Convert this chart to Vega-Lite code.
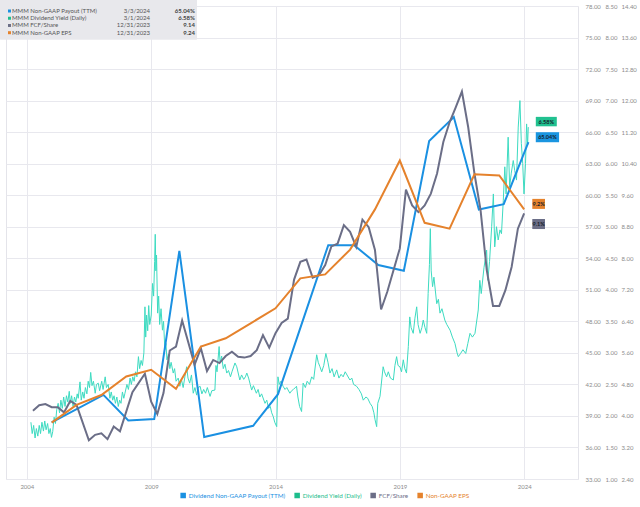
{
"$schema": "https://vega.github.io/schema/vega-lite/v6.json",
"width": 572, "height": 473,
"autosize": {"type": "none"},
"padding": {"left": 6, "top": 6, "right": 62, "bottom": 28},
"background": "white",
"config": {
  "font": "Lato",
  "view": {"stroke": "#e4e4ea", "strokeWidth": 1},
  "axis": {"labelFont": "Lato", "labelFontSize": 6, "labelColor": "#8c8c8c", "ticks": false, "domain": false, "gridColor": "#e8e8ee", "gridWidth": 1, "labelOverlap": false, "labelFlush": false}
},
"datasets": {
  "payout": [{"date":"2004-12-31","value":38.38},{"date":"2007-01-30","value":41.0},{"date":"2008-01-30","value":38.57},{"date":"2009-02-14","value":38.7},{"date":"2010-02-18","value":54.71},{"date":"2011-02-18","value":36.99},{"date":"2013-02-06","value":38.06},{"date":"2014-02-06","value":41.07},{"date":"2016-02-14","value":55.25},{"date":"2017-02-28","value":55.25},{"date":"2018-02-18","value":53.35},{"date":"2019-02-28","value":52.81},{"date":"2020-03-06","value":65.16},{"date":"2021-03-03","value":67.43},{"date":"2022-03-06","value":58.64},{"date":"2023-03-06","value":59.14},{"date":"2024-03-03","value":65.04}],
  "eps": [{"date":"2004-12-31","value":3.83},{"date":"2005-12-31","value":4.28},{"date":"2006-12-31","value":4.53},{"date":"2007-12-31","value":5.0},{"date":"2008-12-31","value":5.17},{"date":"2009-12-31","value":4.69},{"date":"2010-12-31","value":5.76},{"date":"2011-12-31","value":5.97},{"date":"2012-12-31","value":6.35},{"date":"2013-12-31","value":6.73},{"date":"2014-12-31","value":7.49},{"date":"2015-12-31","value":7.59},{"date":"2016-12-31","value":8.22},{"date":"2017-12-31","value":9.24},{"date":"2018-12-31","value":10.48},{"date":"2019-12-31","value":8.9},{"date":"2020-12-31","value":8.75},{"date":"2021-12-31","value":10.13},{"date":"2022-12-31","value":10.1},{"date":"2023-12-31","value":9.24}],
  "fcf": [{"date":"2004-03-31","value":4.13},{"date":"2004-06-30","value":4.27},{"date":"2004-09-30","value":4.3},{"date":"2004-12-31","value":4.22},{"date":"2005-03-31","value":4.22},{"date":"2005-06-30","value":4.09},{"date":"2005-09-30","value":4.38},{"date":"2005-12-31","value":4.28},{"date":"2006-06-30","value":3.38},{"date":"2006-09-30","value":3.52},{"date":"2006-12-31","value":3.56},{"date":"2007-03-31","value":3.41},{"date":"2007-06-30","value":3.73},{"date":"2007-09-30","value":3.61},{"date":"2008-03-31","value":4.6},{"date":"2008-09-30","value":5.07},{"date":"2008-12-31","value":4.36},{"date":"2009-03-31","value":4.05},{"date":"2009-06-30","value":4.58},{"date":"2009-09-30","value":5.66},{"date":"2009-12-31","value":5.76},{"date":"2010-03-31","value":6.42},{"date":"2010-09-30","value":5.3},{"date":"2010-12-31","value":5.72},{"date":"2011-03-31","value":5.14},{"date":"2011-06-30","value":5.42},{"date":"2011-09-30","value":5.34},{"date":"2011-12-31","value":5.52},{"date":"2012-03-31","value":5.63},{"date":"2012-06-30","value":5.5},{"date":"2012-09-30","value":5.48},{"date":"2012-12-31","value":5.52},{"date":"2013-03-31","value":5.67},{"date":"2013-06-30","value":6.05},{"date":"2013-09-30","value":5.73},{"date":"2013-12-31","value":6.1},{"date":"2014-03-31","value":6.36},{"date":"2014-06-30","value":6.47},{"date":"2014-09-30","value":7.46},{"date":"2014-12-31","value":7.91},{"date":"2015-03-31","value":7.97},{"date":"2015-06-30","value":7.51},{"date":"2015-09-30","value":7.57},{"date":"2015-12-31","value":7.83},{"date":"2016-03-31","value":8.3},{"date":"2016-06-30","value":8.37},{"date":"2016-09-30","value":8.84},{"date":"2016-12-31","value":8.67},{"date":"2017-03-31","value":8.29},{"date":"2017-06-30","value":8.98},{"date":"2017-09-30","value":8.79},{"date":"2017-12-31","value":8.21},{"date":"2018-03-31","value":6.7},{"date":"2018-06-30","value":7.15},{"date":"2018-12-31","value":8.25},{"date":"2019-03-31","value":9.74},{"date":"2019-06-30","value":9.34},{"date":"2019-09-30","value":9.17},{"date":"2019-12-31","value":9.34},{"date":"2020-03-31","value":9.64},{"date":"2020-06-30","value":10.15},{"date":"2020-09-30","value":10.95},{"date":"2020-12-31","value":11.45},{"date":"2021-03-31","value":11.83},{"date":"2021-06-30","value":12.23},{"date":"2021-09-30","value":11.33},{"date":"2021-12-31","value":10.15},{"date":"2022-03-31","value":9.22},{"date":"2022-06-30","value":7.7},{"date":"2022-09-30","value":6.79},{"date":"2022-12-31","value":6.79},{"date":"2023-03-31","value":7.19},{"date":"2023-06-30","value":7.78},{"date":"2023-09-30","value":8.75},{"date":"2023-12-31","value":9.14}],
  "yield": [{"date":"2004-03-01","value":1.9},{"date":"2004-03-20","value":1.72},{"date":"2004-04-10","value":1.85},{"date":"2004-05-01","value":1.65},{"date":"2004-05-20","value":1.8},{"date":"2004-06-10","value":1.68},{"date":"2004-07-01","value":1.85},{"date":"2004-07-20","value":1.72},{"date":"2004-08-10","value":1.9},{"date":"2004-09-01","value":1.76},{"date":"2004-09-20","value":1.92},{"date":"2004-10-10","value":1.78},{"date":"2004-11-01","value":1.88},{"date":"2004-11-20","value":1.72},{"date":"2004-12-10","value":1.8},{"date":"2004-12-28","value":1.66},{"date":"2005-01-15","value":1.75},{"date":"2005-02-05","value":1.98},{"date":"2005-02-25","value":1.88},{"date":"2005-03-15","value":2.1},{"date":"2005-04-05","value":2.2},{"date":"2005-04-25","value":2.05},{"date":"2005-05-15","value":2.25},{"date":"2005-06-05","value":2.12},{"date":"2005-06-25","value":2.3},{"date":"2005-07-15","value":2.15},{"date":"2005-08-05","value":2.32},{"date":"2005-08-25","value":2.22},{"date":"2005-09-15","value":2.39},{"date":"2005-10-01","value":2.2},{"date":"2005-10-20","value":2.32},{"date":"2005-11-10","value":2.15},{"date":"2005-12-01","value":2.3},{"date":"2005-12-20","value":2.22},{"date":"2006-01-10","value":2.35},{"date":"2006-01-25","value":2.28},{"date":"2006-02-20","value":2.54},{"date":"2006-03-10","value":2.25},{"date":"2006-04-01","value":2.38},{"date":"2006-04-20","value":2.28},{"date":"2006-05-10","value":2.45},{"date":"2006-06-01","value":2.35},{"date":"2006-06-20","value":2.55},{"date":"2006-07-10","value":2.45},{"date":"2006-07-27","value":2.69},{"date":"2006-08-15","value":2.48},{"date":"2006-09-05","value":2.55},{"date":"2006-10-01","value":2.36},{"date":"2006-10-20","value":2.5},{"date":"2006-11-15","value":2.52},{"date":"2006-12-05","value":2.4},{"date":"2007-01-05","value":2.55},{"date":"2007-01-25","value":2.42},{"date":"2007-02-25","value":2.62},{"date":"2007-03-15","value":2.45},{"date":"2007-04-10","value":2.5},{"date":"2007-05-05","value":2.28},{"date":"2007-05-25","value":2.38},{"date":"2007-06-15","value":2.25},{"date":"2007-07-05","value":2.32},{"date":"2007-07-25","value":2.2},{"date":"2007-08-15","value":2.3},{"date":"2007-09-05","value":2.15},{"date":"2007-09-25","value":2.25},{"date":"2007-10-15","value":2.2},{"date":"2007-11-05","value":2.38},{"date":"2007-11-25","value":2.28},{"date":"2007-12-12","value":2.36},{"date":"2008-01-10","value":2.5},{"date":"2008-02-01","value":2.42},{"date":"2008-02-25","value":2.6},{"date":"2008-03-15","value":2.5},{"date":"2008-04-05","value":2.62},{"date":"2008-04-25","value":2.55},{"date":"2008-05-15","value":2.7},{"date":"2008-06-05","value":2.62},{"date":"2008-06-27","value":2.94},{"date":"2008-07-15","value":2.75},{"date":"2008-08-05","value":2.88},{"date":"2008-08-25","value":2.8},{"date":"2008-09-15","value":3.0},{"date":"2008-10-01","value":3.73},{"date":"2008-10-12","value":3.25},{"date":"2008-10-25","value":3.6},{"date":"2008-11-10","value":3.35},{"date":"2008-11-25","value":3.75},{"date":"2008-12-10","value":3.45},{"date":"2009-01-01","value":3.6},{"date":"2009-01-20","value":4.1},{"date":"2009-02-05","value":3.9},{"date":"2009-02-20","value":4.45},{"date":"2009-03-01","value":4.88},{"date":"2009-03-10","value":4.3},{"date":"2009-03-20","value":4.55},{"date":"2009-04-05","value":3.63},{"date":"2009-04-20","value":3.9},{"date":"2009-05-05","value":3.45},{"date":"2009-05-25","value":3.7},{"date":"2009-06-15","value":3.36},{"date":"2009-07-01","value":3.5},{"date":"2009-07-20","value":3.05},{"date":"2009-08-05","value":3.15},{"date":"2009-08-20","value":2.89},{"date":"2009-09-10","value":2.98},{"date":"2009-10-01","value":2.75},{"date":"2009-10-20","value":2.85},{"date":"2009-11-20","value":2.68},{"date":"2009-12-10","value":2.75},{"date":"2010-01-01","value":2.55},{"date":"2010-02-01","value":2.6},{"date":"2010-02-25","value":2.47},{"date":"2010-03-20","value":2.58},{"date":"2010-04-15","value":2.45},{"date":"2010-05-10","value":2.62},{"date":"2010-06-05","value":2.78},{"date":"2010-06-25","value":2.6},{"date":"2010-07-20","value":2.52},{"date":"2010-08-15","value":2.65},{"date":"2010-09-10","value":2.36},{"date":"2010-10-05","value":2.45},{"date":"2010-10-30","value":2.33},{"date":"2010-11-20","value":2.45},{"date":"2010-12-20","value":2.47},{"date":"2011-01-15","value":2.35},{"date":"2011-02-10","value":2.42},{"date":"2011-03-10","value":2.36},{"date":"2011-04-05","value":2.45},{"date":"2011-05-15","value":2.31},{"date":"2011-06-10","value":2.4},{"date":"2011-07-25","value":2.41},{"date":"2011-08-10","value":2.8},{"date":"2011-08-25","value":2.7},{"date":"2011-09-25","value":3.1},{"date":"2011-10-10","value":2.84},{"date":"2011-11-01","value":2.95},{"date":"2011-11-25","value":2.75},{"date":"2011-12-20","value":2.82},{"date":"2012-01-15","value":2.68},{"date":"2012-02-10","value":2.72},{"date":"2012-03-10","value":2.62},{"date":"2012-04-01","value":2.7},{"date":"2012-05-15","value":2.84},{"date":"2012-06-10","value":2.78},{"date":"2012-07-25","value":2.57},{"date":"2012-08-20","value":2.65},{"date":"2012-09-20","value":2.58},{"date":"2012-10-15","value":2.62},{"date":"2012-11-05","value":2.68},{"date":"2012-12-01","value":2.6},{"date":"2012-12-25","value":2.5},{"date":"2013-01-15","value":2.41},{"date":"2013-02-10","value":2.48},{"date":"2013-03-25","value":2.36},{"date":"2013-04-20","value":2.42},{"date":"2013-05-15","value":2.3},{"date":"2013-06-10","value":2.35},{"date":"2013-07-30","value":2.2},{"date":"2013-08-25","value":2.25},{"date":"2013-09-20","value":2.12},{"date":"2013-10-15","value":2.15},{"date":"2013-11-05","value":2.05},{"date":"2013-11-28","value":1.99},{"date":"2013-12-20","value":1.9},{"date":"2014-01-18","value":1.83},{"date":"2014-02-05","value":2.62},{"date":"2014-02-25","value":2.5},{"date":"2014-03-20","value":2.55},{"date":"2014-04-22","value":2.47},{"date":"2014-05-20","value":2.42},{"date":"2014-06-15","value":2.45},{"date":"2014-07-30","value":2.36},{"date":"2014-08-25","value":2.4},{"date":"2014-09-20","value":2.42},{"date":"2014-11-05","value":2.47},{"date":"2014-11-25","value":2.3},{"date":"2014-12-20","value":2.15},{"date":"2015-01-18","value":2.07},{"date":"2015-02-10","value":2.52},{"date":"2015-03-15","value":2.45},{"date":"2015-04-10","value":2.55},{"date":"2015-05-15","value":2.5},{"date":"2015-06-15","value":2.62},{"date":"2015-07-15","value":2.58},{"date":"2015-08-28","value":2.97},{"date":"2015-09-20","value":2.85},{"date":"2015-10-15","value":2.78},{"date":"2015-11-10","value":2.7},{"date":"2015-12-10","value":2.8},{"date":"2016-01-10","value":2.99},{"date":"2016-02-10","value":2.85},{"date":"2016-03-10","value":2.68},{"date":"2016-04-10","value":2.75},{"date":"2016-05-10","value":2.62},{"date":"2016-06-17","value":2.73},{"date":"2016-07-20","value":2.6},{"date":"2016-08-20","value":2.66},{"date":"2016-09-20","value":2.62},{"date":"2016-10-20","value":2.7},{"date":"2016-12-28","value":2.57},{"date":"2017-01-25","value":2.6},{"date":"2017-02-20","value":2.5},{"date":"2017-04-05","value":2.47},{"date":"2017-05-10","value":2.42},{"date":"2017-06-15","value":2.35},{"date":"2017-07-12","value":2.25},{"date":"2017-08-20","value":2.3},{"date":"2017-09-15","value":2.28},{"date":"2017-10-20","value":2.2},{"date":"2017-11-20","value":2.15},{"date":"2017-12-15","value":2.05},{"date":"2018-01-01","value":1.94},{"date":"2018-01-25","value":1.83},{"date":"2018-02-10","value":2.2},{"date":"2018-03-15","value":2.31},{"date":"2018-04-30","value":2.78},{"date":"2018-05-20","value":2.7},{"date":"2018-06-20","value":2.62},{"date":"2018-07-15","value":2.7},{"date":"2018-08-15","value":2.6},{"date":"2018-09-27","value":2.57},{"date":"2018-10-20","value":2.8},{"date":"2018-11-14","value":2.94},{"date":"2018-12-05","value":2.8},{"date":"2019-01-01","value":2.78},{"date":"2019-01-25","value":2.7},{"date":"2019-02-20","value":2.89},{"date":"2019-03-15","value":2.75},{"date":"2019-04-08","value":2.68},{"date":"2019-05-05","value":3.1},{"date":"2019-05-26","value":3.57},{"date":"2019-06-15","value":3.4},{"date":"2019-07-16","value":3.31},{"date":"2019-08-10","value":3.55},{"date":"2019-09-05","value":3.73},{"date":"2019-09-25","value":3.45},{"date":"2019-10-25","value":3.31},{"date":"2019-11-20","value":3.4},{"date":"2019-12-10","value":3.52},{"date":"2020-01-05","value":3.4},{"date":"2020-01-30","value":3.31},{"date":"2020-02-20","value":3.94},{"date":"2020-03-10","value":4.4},{"date":"2020-03-23","value":4.97},{"date":"2020-04-05","value":4.3},{"date":"2020-04-25","value":4.05},{"date":"2020-05-15","value":4.2},{"date":"2020-06-25","value":3.78},{"date":"2020-07-20","value":3.85},{"date":"2020-08-12","value":3.63},{"date":"2020-09-10","value":3.7},{"date":"2020-10-22","value":3.52},{"date":"2020-11-20","value":3.45},{"date":"2021-01-07","value":3.36},{"date":"2021-02-10","value":3.25},{"date":"2021-03-20","value":3.15},{"date":"2021-04-20","value":3.0},{"date":"2021-05-08","value":2.94},{"date":"2021-06-10","value":2.99},{"date":"2021-07-15","value":3.05},{"date":"2021-08-25","value":2.99},{"date":"2021-09-25","value":3.15},{"date":"2021-10-27","value":3.31},{"date":"2021-12-01","value":3.25},{"date":"2022-01-08","value":3.31},{"date":"2022-02-25","value":3.68},{"date":"2022-03-20","value":4.15},{"date":"2022-04-10","value":3.94},{"date":"2022-05-20","value":4.35},{"date":"2022-06-28","value":4.63},{"date":"2022-07-15","value":4.15},{"date":"2022-08-10","value":4.45},{"date":"2022-09-10","value":5.0},{"date":"2022-10-05","value":5.52},{"date":"2022-10-25","value":4.68},{"date":"2022-11-20","value":5.0},{"date":"2022-12-15","value":4.79},{"date":"2023-01-10","value":4.95},{"date":"2023-02-01","value":4.89},{"date":"2023-02-28","value":5.42},{"date":"2023-03-22","value":5.95},{"date":"2023-04-10","value":5.52},{"date":"2023-05-10","value":6.42},{"date":"2023-06-01","value":5.63},{"date":"2023-06-25","value":5.85},{"date":"2023-07-24","value":6.05},{"date":"2023-08-15","value":5.89},{"date":"2023-09-10","value":5.74},{"date":"2023-10-05","value":6.58},{"date":"2023-10-30","value":7.0},{"date":"2023-11-20","value":6.32},{"date":"2023-12-10","value":6.0},{"date":"2023-12-29","value":5.52},{"date":"2024-01-20","value":6.0},{"date":"2024-02-05","value":6.63},{"date":"2024-02-20","value":6.3},{"date":"2024-03-01","value":6.58}],
  "last": [{"series":"Dividend Yield (Daily)","date":"2024-03-01","value":6.58,"label":"6.58%"},{"series":"Dividend Non-GAAP Payout (TTM)","date":"2024-03-03","value":65.04,"label":"65.04%"},{"series":"Non-GAAP EPS","date":"2023-12-31","value":9.24,"label":"9.2%"},{"series":"FCF/Share","date":"2023-12-31","value":9.14,"label":"9.1%"}],
  "info": [{"row":1,"series":"Dividend Non-GAAP Payout (TTM)","name":"MMM Non-GAAP Payout (TTM)","asof":"3/3/2024","val":"65.04%"},{"row":2,"series":"Dividend Yield (Daily)","name":"MMM Dividend Yield (Daily)","asof":"3/1/2024","val":"6.58%"},{"row":3,"series":"FCF/Share","name":"MMM FCF/Share","asof":"12/31/2023","val":"9.14"},{"row":4,"series":"Non-GAAP EPS","name":"MMM Non-GAAP EPS","asof":"12/31/2023","val":"9.24"}]
},
"layer": [
  {
    "layer": [
      {
        "data": {"name": "yield"},
        "mark": {"type": "line", "color": "#3ddbc1", "strokeWidth": 1},
        "encoding": {
          "x": {"field": "date", "type": "temporal", "title": null,
                "scale": {"domain": [{"year": 2003, "month": 3, "date": 1}, {"year": 2026, "month": 3, "date": 1}]},
                "axis": {"values": [{"year": 2004, "month": 1, "date": 1}, {"year": 2009, "month": 1, "date": 1}, {"year": 2014, "month": 1, "date": 1}, {"year": 2019, "month": 1, "date": 1}, {"year": 2024, "month": 1, "date": 1}], "format": "%Y", "grid": true, "labelPadding": 4, "tickCount": 20}},
          "y": {"field": "value", "type": "quantitative", "title": null,
                "scale": {"domain": [1, 8.5], "nice": false, "zero": false},
                "axis": {"orient": "right", "offset": 20, "labelPadding": 7, "grid": false, "format": ".2f", "tickCount": 40, "labelOverlap": false, "values": [1, 1.5, 2, 2.5, 3, 3.5, 4, 4.5, 5, 5.5, 6, 6.5, 7, 7.5, 8, 8.5]}}
        }
      },
      {
        "data": {"name": "last"},
        "transform": [{"filter": "datum.series === 'Dividend Yield (Daily)'"}],
        "mark": {"type": "point", "shape": "M-1,-0.45H1V0.45H-1Z", "size": 441, "filled": true, "opacity": 1, "color": "#21c190", "xOffset": 18, "yOffset": -5.5},
        "encoding": {"x": {"field": "date", "type": "temporal"}, "y": {"field": "value", "type": "quantitative"}}
      },
      {
        "data": {"name": "last"},
        "transform": [{"filter": "datum.series === 'Dividend Yield (Daily)'"}],
        "mark": {"type": "text", "fontSize": 5.5, "fontWeight": "bold", "color": "#16202a", "xOffset": 18, "yOffset": -5.5, "align": "center", "baseline": "middle"},
        "encoding": {"x": {"field": "date", "type": "temporal"}, "y": {"field": "value", "type": "quantitative"}, "text": {"field": "label"}}
      }
    ]
  },
  {
    "layer": [
      {
        "data": {"name": "payout"},
        "mark": {"type": "line", "strokeWidth": 2},
        "encoding": {
          "x": {"field": "date", "type": "temporal"},
          "y": {"field": "value", "type": "quantitative", "title": null,
                "scale": {"domain": [33, 78], "nice": false, "zero": false},
                "axis": {"orient": "right", "offset": 0, "labelPadding": 7, "grid": true, "format": ".2f", "tickCount": 40, "labelOverlap": false, "values": [33, 36, 39, 42, 45, 48, 51, 54, 57, 60, 63, 66, 69, 72, 75, 78]}},
          "color": {"datum": "Dividend Non-GAAP Payout (TTM)", "type": "nominal", "title": null,
                    "scale": {"domain": ["Dividend Non-GAAP Payout (TTM)", "Dividend Yield (Daily)", "FCF/Share", "Non-GAAP EPS"], "range": ["#1a90e2", "#1dbd8c", "#6b6e87", "#e5822c"]},
                    "legend": {"orient": "none", "legendX": 174, "legendY": 486, "direction": "horizontal", "title": null, "padding": 0,
                               "symbolType": "square", "symbolSize": 16, "labelFontSize": 6.3, "labelFont": "Lato", "columnPadding": 6, "labelOffset": 2.5,
                               "encode": {"labels": {"update": {"fill": {"signal": "scale('color', datum.value)"}}},
                                          "symbols": {"update": {"fill": {"signal": "scale('color', datum.value)"}, "stroke": {"value": "transparent"}, "shape": {"value": "square"}}}}}}
        }
      },
      {
        "data": {"name": "last"},
        "transform": [{"filter": "datum.series === 'Dividend Non-GAAP Payout (TTM)'"}],
        "mark": {"type": "point", "shape": "M-1,-0.43H1V0.43H-1Z", "size": 543, "filled": true, "opacity": 1, "color": "#1a95e0", "xOffset": 19, "yOffset": -5},
        "encoding": {"x": {"field": "date", "type": "temporal"}, "y": {"field": "value", "type": "quantitative"}}
      },
      {
        "data": {"name": "last"},
        "transform": [{"filter": "datum.series === 'Dividend Non-GAAP Payout (TTM)'"}],
        "mark": {"type": "text", "fontSize": 5.5, "fontWeight": "bold", "color": "#16202a", "xOffset": 19, "yOffset": -5, "align": "center", "baseline": "middle"},
        "encoding": {"x": {"field": "date", "type": "temporal"}, "y": {"field": "value", "type": "quantitative"}, "text": {"field": "label"}}
      }
    ]
  },
  {
    "layer": [
      {
        "data": {"name": "fcf"},
        "mark": {"type": "line", "strokeWidth": 2, "color": "#6b6e87"},
        "encoding": {
          "x": {"field": "date", "type": "temporal"},
          "y": {"field": "value", "type": "quantitative", "title": null,
                "scale": {"domain": [2.4, 14.4], "nice": false, "zero": false},
                "axis": {"orient": "right", "offset": 36, "labelPadding": 7, "grid": false, "format": ".2f", "tickCount": 40, "labelOverlap": false, "values": [2.4, 3.2, 4.0, 4.8, 5.6, 6.4, 7.2, 8.0, 8.8, 9.6, 10.4, 11.2, 12.0, 12.8, 13.6, 14.4]}}
        }
      },
      {
        "data": {"name": "eps"},
        "mark": {"type": "line", "strokeWidth": 2, "color": "#e5822c"},
        "encoding": {"x": {"field": "date", "type": "temporal"}, "y": {"field": "value", "type": "quantitative"}}
      },
      {
        "data": {"name": "last"},
        "transform": [{"filter": "datum.series === 'Non-GAAP EPS'"}],
        "mark": {"type": "point", "shape": "M-1,-0.79H1V0.79H-1Z", "size": 161, "filled": true, "opacity": 1, "color": "#e5822c", "xOffset": 14.5, "yOffset": -5.5},
        "encoding": {"x": {"field": "date", "type": "temporal"}, "y": {"field": "value", "type": "quantitative"}}
      },
      {
        "data": {"name": "last"},
        "transform": [{"filter": "datum.series === 'Non-GAAP EPS'"}],
        "mark": {"type": "text", "fontSize": 5.5, "fontWeight": "bold", "color": "#16202a", "xOffset": 14.5, "yOffset": -5.5, "align": "center", "baseline": "middle"},
        "encoding": {"x": {"field": "date", "type": "temporal"}, "y": {"field": "value", "type": "quantitative"}, "text": {"field": "label"}}
      },
      {
        "data": {"name": "last"},
        "transform": [{"filter": "datum.series === 'FCF/Share'"}],
        "mark": {"type": "point", "shape": "M-1,-0.79H1V0.79H-1Z", "size": 161, "filled": true, "opacity": 1, "color": "#6b6e87", "xOffset": 14.5, "yOffset": 10.7},
        "encoding": {"x": {"field": "date", "type": "temporal"}, "y": {"field": "value", "type": "quantitative"}}
      },
      {
        "data": {"name": "last"},
        "transform": [{"filter": "datum.series === 'FCF/Share'"}],
        "mark": {"type": "text", "fontSize": 5.5, "fontWeight": "bold", "color": "#16202a", "xOffset": 14.5, "yOffset": 10.7, "align": "center", "baseline": "middle"},
        "encoding": {"x": {"field": "date", "type": "temporal"}, "y": {"field": "value", "type": "quantitative"}, "text": {"field": "label"}}
      }
    ]
  },
  {
    "data": {"name": "info"},
    "layer": [
      {
        "mark": {"type": "rect", "color": "#e8e8ec", "clip": false},
        "encoding": {
          "x": {"datum": {"year": 2002, "month": 12, "date": 3}, "type": "temporal"},
          "x2": {"datum": {"year": 2010, "month": 11, "date": 4}},
          "y": {"datum": -0.52, "type": "quantitative", "scale": {"domain": [0.308, 65.7], "reverse": true, "nice": false, "zero": false}, "axis": null},
          "y2": {"datum": 4.91}
        }
      },
      {
        "mark": {"type": "point", "shape": "square", "size": 9, "filled": true, "opacity": 1},
        "encoding": {
          "x": {"datum": {"year": 2003, "month": 4, "date": 21}, "type": "temporal"},
          "y": {"field": "row", "type": "quantitative"},
          "color": {"field": "series", "type": "nominal", "title": null}
        }
      },
      {
        "mark": {"type": "text", "fontSize": 6, "color": "#555555", "align": "left", "baseline": "middle"},
        "encoding": {
          "x": {"datum": {"year": 2003, "month": 5, "date": 28}, "type": "temporal"},
          "y": {"field": "row", "type": "quantitative"},
          "text": {"field": "name"}
        }
      },
      {
        "mark": {"type": "text", "fontSize": 6, "color": "#555555", "align": "right", "baseline": "middle"},
        "encoding": {
          "x": {"datum": {"year": 2008, "month": 12, "date": 15}, "type": "temporal"},
          "y": {"field": "row", "type": "quantitative"},
          "text": {"field": "asof"}
        }
      },
      {
        "mark": {"type": "text", "fontSize": 6, "fontWeight": "bold", "color": "#444444", "align": "right", "baseline": "middle"},
        "encoding": {
          "x": {"datum": {"year": 2010, "month": 10, "date": 6}, "type": "temporal"},
          "y": {"field": "row", "type": "quantitative"},
          "text": {"field": "val"}
        }
      }
    ]
  }
],
"resolve": {"scale": {"y": "independent"}}
}
